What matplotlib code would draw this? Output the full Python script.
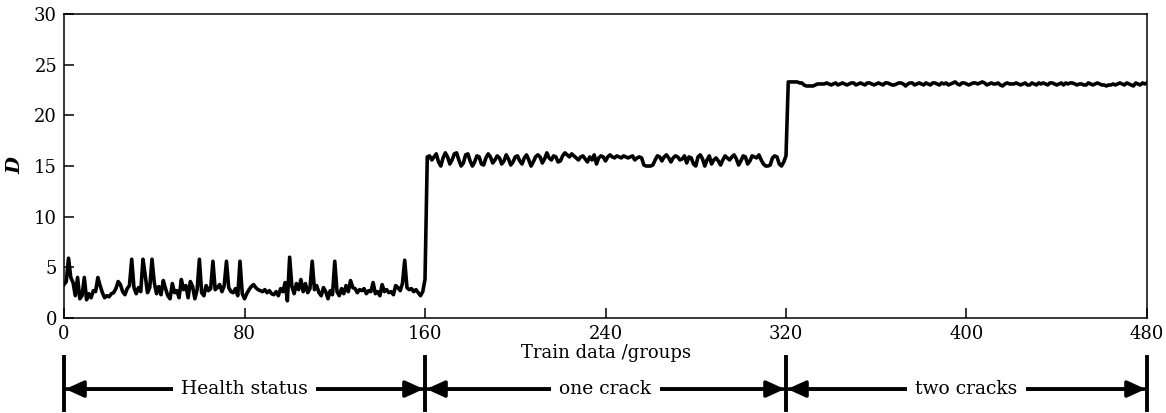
import numpy as np
import matplotlib
matplotlib.use("Agg")
import matplotlib.pyplot as plt
from matplotlib.transforms import blended_transform_factory

# D value for each train group, 0..480
health = [3.3, 3.6, 5.9, 4.0, 3.5, 2.2, 4.0, 1.9, 2.2, 4.0,
          1.8, 2.4, 2.0, 2.7, 2.6, 4.0, 3.2, 2.5, 2.0, 2.2,
          2.1, 2.4, 2.5, 2.9, 3.6, 3.3, 2.6, 2.3, 2.9, 3.2,
          5.8, 3.0, 2.4, 3.0, 2.6, 5.8, 4.2, 2.5, 3.0, 5.8,
          3.5, 2.4, 3.1, 2.3, 3.7, 2.9, 2.2, 1.9, 3.4, 2.5,
          2.7, 2.0, 3.8, 2.8, 3.2, 2.0, 3.6, 3.1, 1.9, 2.8,
          5.8, 2.5, 2.2, 3.2, 2.7, 2.9, 5.6, 2.8, 3.0, 3.3,
          2.6, 3.2, 5.6, 3.0, 2.6, 2.5, 2.9, 2.2, 5.6, 2.4,
          1.9, 2.4, 2.8, 3.1, 3.3, 3.0, 2.8, 2.7, 2.6, 2.8,
          2.5, 2.7, 2.4, 2.3, 2.6, 2.2, 2.9, 2.6, 3.5, 1.7,
          6.0, 3.1, 2.4, 3.4, 2.8, 3.8, 2.6, 3.4, 2.5, 2.9,
          5.6, 2.8, 3.2, 2.5, 2.2, 3.0, 2.6, 1.9, 2.7, 2.3,
          5.6, 2.6, 2.2, 2.9, 2.4, 3.2, 2.6, 3.7, 3.0, 2.9,
          2.5, 2.8, 2.7, 2.9, 2.4, 2.7, 2.6, 3.5, 2.4, 2.6,
          2.2, 3.3, 2.6, 2.8, 2.5, 2.6, 2.3, 3.2, 3.0, 2.7,
          3.4, 5.7, 3.0, 2.8, 2.9, 2.6, 2.8, 2.5, 2.2, 2.6,
          3.8]

one_crack = [15.9, 16.0, 15.6, 15.9, 16.2, 15.4, 15.0, 15.8, 16.3, 15.9,
             15.2, 15.6, 16.2, 16.3, 15.6, 15.0, 15.3, 16.1, 16.2, 15.5,
             15.0, 15.4, 16.0, 15.9, 15.2, 15.1, 15.8, 16.2, 15.9, 15.3,
             15.6, 16.0, 15.8, 15.2, 15.5, 16.1, 15.7, 15.1, 15.4, 15.9,
             16.0, 15.5, 15.2, 15.8, 16.1, 15.6, 15.0, 15.4, 15.9, 16.1,
             15.9, 15.3, 15.7, 16.3, 15.8, 15.6, 16.0, 15.9, 15.4, 15.5,
             16.0, 16.3, 16.1, 15.9, 16.2, 16.0, 15.8, 15.6, 15.9, 16.0,
             15.7, 15.4, 15.9, 15.6, 16.1, 15.2, 15.8, 16.0, 15.9, 15.5,
             15.9, 16.1, 15.9, 15.8, 16.0, 15.9, 15.8, 16.0, 15.9, 15.8,
             15.9, 16.0, 15.6, 15.8, 15.9, 15.8, 15.1, 15.0, 15.0, 15.0,
             15.1, 15.6, 16.0, 15.9, 15.5, 15.9, 16.1, 15.8, 15.4, 15.8,
             16.0, 15.9, 15.6, 15.7, 16.0, 15.3, 15.9, 15.8, 15.2, 15.0,
             15.9, 16.1, 15.7, 15.0, 15.6, 16.0, 15.2, 15.6, 15.8, 15.5,
             15.1, 15.6, 16.0, 15.8, 15.6, 15.9, 16.1, 15.7, 15.1, 15.5,
             16.0, 15.9, 15.2, 15.5, 16.0, 15.9, 15.8, 16.1, 15.6, 15.2,
             15.0, 15.0, 15.1, 15.8, 16.0, 15.9, 15.2, 15.0, 15.4, 16.0]

two_cracks = [23.3, 23.3, 23.3, 23.3, 23.3, 23.2, 23.2, 23.0, 22.9, 22.9,
              22.9, 22.9, 23.0, 23.1, 23.1, 23.1, 23.1, 23.2, 23.1, 23.0,
              23.1, 23.2, 23.0, 23.1, 23.2, 23.1, 23.0, 23.1, 23.2, 23.2,
              23.0, 23.1, 23.2, 23.1, 23.0, 23.2, 23.2, 23.1, 23.0, 23.1,
              23.2, 23.1, 23.0, 23.2, 23.2, 23.1, 23.0, 23.0, 23.1, 23.2,
              23.2, 23.1, 22.9, 23.1, 23.2, 23.2, 23.0, 23.1, 23.2, 23.1,
              23.0, 23.2, 23.1, 23.0, 23.2, 23.2, 23.1, 23.0, 23.2, 23.1,
              23.2, 23.0, 23.1, 23.2, 23.3, 23.1, 23.0, 23.2, 23.2, 23.1,
              23.0, 23.1, 23.2, 23.2, 23.1, 23.2, 23.3, 23.2, 23.0, 23.1,
              23.2, 23.1, 23.1, 23.2, 23.0, 22.9, 23.1, 23.2, 23.1, 23.1,
              23.1, 23.2, 23.1, 23.0, 23.1, 23.2, 23.0, 23.0, 23.2, 23.1,
              23.0, 23.2, 23.1, 23.2, 23.1, 23.0, 23.2, 23.2, 23.1, 23.0,
              23.1, 23.2, 23.0, 23.2, 23.1, 23.2, 23.2, 23.1, 23.0, 23.1,
              23.1, 23.0, 23.0, 23.2, 23.1, 23.0, 23.1, 23.2, 23.1, 23.0,
              23.0, 22.9, 23.0, 23.0, 23.1, 23.0, 23.1, 23.2, 23.1, 23.0,
              23.2, 23.1, 23.0, 22.9, 23.2, 23.1, 23.0, 23.2, 23.1, 23.2]

d_values = health + one_crack + two_cracks
groups = np.arange(len(d_values))

xticks = [0, 80, 160, 240, 320, 400, 480]
yticks = [0, 5, 10, 15, 20, 25, 30]

# states shown under the axis
state_bounds = [0, 160, 320, 480]
state_labels = ["Health status", "one crack", "two cracks"]

plt.rcParams['font.family'] = ['DejaVu Serif']

fig = plt.figure(figsize=(11.66, 4.13), dpi=100)
ax = fig.add_axes([0.0549, 0.23, 0.9288, 0.736])

ax.plot(groups, d_values, color='black', lw=2.6, solid_joinstyle='round')

ax.set_xlim(0, 480)
ax.set_ylim(0, 30)
ax.set_xticks(xticks)
ax.set_yticks(yticks)
ax.tick_params(direction='in', length=7, width=1.1, labelsize=13, pad=5)
for s in ax.spines.values():
    s.set_linewidth(1.1)

ax.set_xlabel("Train data /groups", fontsize=13, labelpad=1)
ax.set_ylabel("D", fontsize=14, fontstyle='italic', fontweight='bold', labelpad=7)

# bracket arrows for each state below the axis
trans = blended_transform_factory(ax.transData, fig.transFigure)
arrow_y = 0.058
head = '-|>,head_length=1.1,head_width=0.5'
for b in state_bounds:
    ax.plot([b, b], [0.008, 0.136], transform=trans, color='black', lw=2.8, clip_on=False)
for i, lab in enumerate(state_labels):
    x0, x1 = state_bounds[i], state_bounds[i + 1]
    ax.annotate("", xy=(x1 - 0.6, arrow_y), xytext=(x0 + 0.6, arrow_y), xycoords=trans, textcoords=trans,
                arrowprops=dict(arrowstyle=head, lw=2.6, color='black', shrinkA=0, shrinkB=0),
                annotation_clip=False)
    ax.annotate("", xy=(x0 + 0.6, arrow_y), xytext=(x1 - 0.6, arrow_y), xycoords=trans, textcoords=trans,
                arrowprops=dict(arrowstyle=head, lw=2.6, color='black', shrinkA=0, shrinkB=0),
                annotation_clip=False)
    ax.text((x0 + x1) / 2, arrow_y, lab, transform=trans, ha='center', va='center', fontsize=13.5,
            bbox=dict(facecolor='white', edgecolor='none', pad=6), zorder=5, clip_on=False)

fig.savefig("out.png", dpi=100)
